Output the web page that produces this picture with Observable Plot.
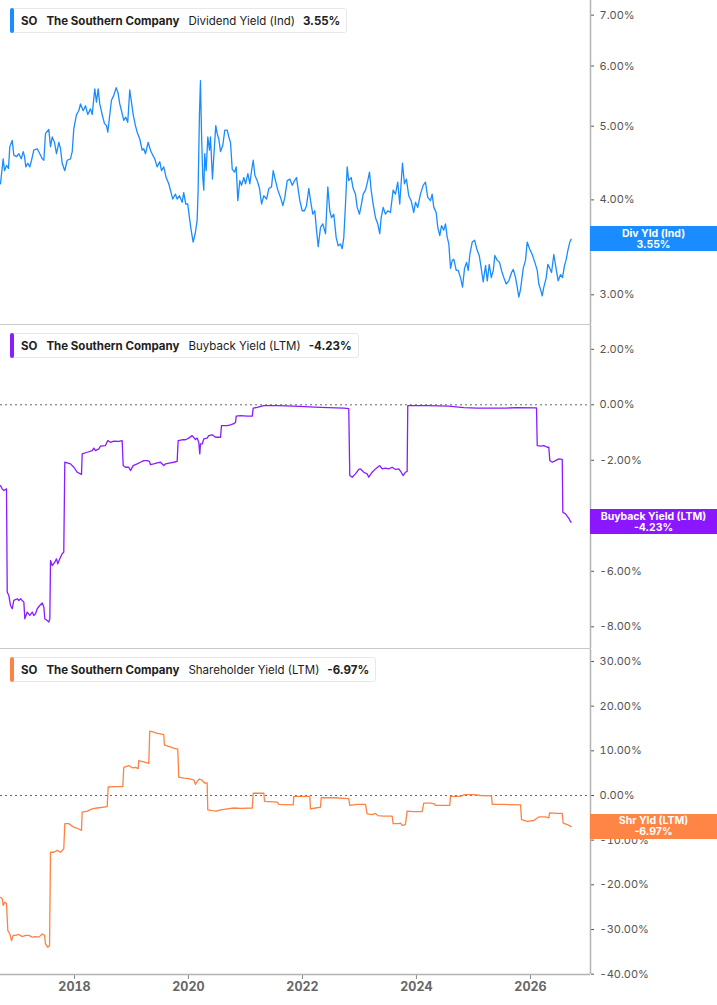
<!DOCTYPE html>
<html>
<head>
<meta charset="utf-8">
<script src="https://cdn.jsdelivr.net/npm/d3@7"></script>
<script src="https://cdn.jsdelivr.net/npm/@observablehq/plot@0.6"></script>
<style>
  body { margin: 0; background: #fff; font-family: Inter, "Noto Sans", sans-serif; }
  #chart { position: relative; width: 717px; height: 1005px; overflow: hidden; background: #fff; }
  #chart svg { display: block; }
  .divider { width: 591px; height: 1px; background: #c8c8c8; }
  .legend { position: absolute; left: 10px; height: 25px; display: flex; align-items: center;
    background: #fff; border: 1px solid #e8e8e8; border-radius: 3px; font-size: 11.5px; color: #222;
    padding: 0 6px 0 10px; box-sizing: border-box; white-space: nowrap; }
  .legend .bar { position: absolute; left: -1px; top: -1px; bottom: -1px; width: 4px; border-radius: 2px; }
  .legend .tk { font-weight: 700; margin-right: 9px; }
  .legend .co { font-weight: 700; margin-right: 9px; }
  .legend .me { font-weight: 400; margin-right: 8px; }
  .legend .va { font-weight: 700; }
  .badge { position: absolute; left: 590px; width: 127px; height: 25px; color: #fff; font-weight: 700;
    font-size: 10.5px; line-height: 11px; text-align: center; display: flex; flex-direction: column;
    justify-content: center; }
</style>
</head>
<body>
<div id="chart"></div>
<script>
// ---- data (decimal year, value in %) ----
const dividendYield = [[2016.702,4.20],[2016.749,4.53],[2016.772,4.37],[2016.807,4.44],[2016.842,4.40],[2016.865,4.70],[2016.907,4.79],[2016.935,4.58],[2016.983,4.56],[2017.023,4.60],[2017.065,4.53],[2017.100,4.63],[2017.123,4.56],[2017.146,4.42],[2017.181,4.47],[2017.216,4.42],[2017.246,4.51],[2017.286,4.65],[2017.346,4.67],[2017.391,4.60],[2017.434,4.53],[2017.462,4.51],[2017.491,4.89],[2017.549,4.95],[2017.579,4.70],[2017.609,4.84],[2017.649,4.76],[2017.684,4.60],[2017.725,4.76],[2017.755,4.67],[2017.784,4.47],[2017.830,4.37],[2017.872,4.51],[2017.930,4.53],[2017.960,4.63],[2017.988,4.96],[2018.035,5.18],[2018.076,5.24],[2018.105,5.35],[2018.153,5.24],[2018.193,5.32],[2018.234,5.18],[2018.281,5.27],[2018.311,5.18],[2018.356,5.60],[2018.386,5.38],[2018.416,5.60],[2018.444,5.35],[2018.486,5.18],[2018.527,5.04],[2018.562,5.01],[2018.585,4.91],[2018.620,5.18],[2018.649,5.41],[2018.690,5.49],[2018.732,5.62],[2018.767,5.52],[2018.795,5.35],[2018.825,5.24],[2018.865,5.09],[2018.900,5.14],[2018.935,5.06],[2018.970,5.58],[2019.000,5.38],[2019.030,5.18],[2019.070,5.01],[2019.100,4.91],[2019.146,4.81],[2019.188,4.65],[2019.216,4.67],[2019.246,4.60],[2019.293,4.76],[2019.334,4.65],[2019.374,4.58],[2019.409,4.53],[2019.451,4.42],[2019.497,4.49],[2019.527,4.37],[2019.567,4.42],[2019.609,4.28],[2019.655,4.20],[2019.684,4.12],[2019.725,4.01],[2019.772,4.07],[2019.802,4.01],[2019.842,4.05],[2019.890,3.97],[2019.918,4.09],[2019.953,3.95],[2019.988,3.95],[2020.018,3.79],[2020.048,3.65],[2020.083,3.52],[2020.118,3.61],[2020.153,3.76],[2020.170,4.12],[2020.193,5.18],[2020.211,5.74],[2020.228,4.94],[2020.251,4.28],[2020.269,4.12],[2020.286,4.60],[2020.311,4.37],[2020.339,4.84],[2020.369,4.65],[2020.386,4.84],[2020.421,4.26],[2020.444,4.56],[2020.479,5.01],[2020.504,4.89],[2020.532,4.81],[2020.562,4.63],[2020.602,4.72],[2020.637,4.94],[2020.679,4.94],[2020.707,4.84],[2020.737,4.76],[2020.767,4.39],[2020.807,4.35],[2020.837,4.42],[2020.865,3.99],[2020.900,4.24],[2020.930,4.18],[2020.970,4.28],[2021.000,4.20],[2021.041,4.33],[2021.076,4.20],[2021.106,4.37],[2021.135,4.51],[2021.164,4.31],[2021.205,4.24],[2021.246,4.14],[2021.281,3.95],[2021.321,4.05],[2021.369,4.01],[2021.409,4.14],[2021.456,4.16],[2021.486,4.37],[2021.526,4.24],[2021.567,4.12],[2021.614,4.03],[2021.655,3.93],[2021.690,4.03],[2021.732,4.24],[2021.778,4.26],[2021.820,4.18],[2021.860,4.24],[2021.895,4.28],[2021.918,4.16],[2021.953,3.99],[2021.995,3.87],[2022.035,3.87],[2022.070,3.93],[2022.111,4.14],[2022.141,3.99],[2022.181,3.83],[2022.216,3.87],[2022.246,3.65],[2022.276,3.47],[2022.316,3.68],[2022.356,3.72],[2022.404,3.61],[2022.444,4.16],[2022.479,3.87],[2022.509,3.79],[2022.549,3.83],[2022.591,3.57],[2022.627,3.48],[2022.667,3.50],[2022.697,3.45],[2022.725,3.57],[2022.755,3.95],[2022.784,4.42],[2022.812,4.24],[2022.855,4.28],[2022.890,4.14],[2022.930,4.07],[2022.960,3.91],[2023.000,3.83],[2023.035,3.95],[2023.065,4.07],[2023.106,4.12],[2023.146,4.24],[2023.176,4.35],[2023.205,4.12],[2023.240,3.95],[2023.281,3.79],[2023.321,3.72],[2023.356,3.61],[2023.381,3.79],[2023.416,3.91],[2023.456,3.83],[2023.497,3.87],[2023.544,3.85],[2023.591,4.12],[2023.632,4.07],[2023.672,4.22],[2023.707,3.95],[2023.755,4.47],[2023.790,4.20],[2023.825,4.26],[2023.865,4.05],[2023.907,3.99],[2023.953,3.85],[2023.983,3.97],[2024.023,3.91],[2024.070,4.07],[2024.118,4.18],[2024.158,4.22],[2024.198,4.03],[2024.246,3.99],[2024.275,4.07],[2024.304,3.91],[2024.346,3.85],[2024.374,3.68],[2024.409,3.59],[2024.439,3.70],[2024.479,3.65],[2024.509,3.72],[2024.539,3.57],[2024.567,3.50],[2024.597,3.25],[2024.627,3.33],[2024.655,3.34],[2024.697,3.23],[2024.732,3.23],[2024.772,3.16],[2024.807,3.07],[2024.842,3.25],[2024.877,3.31],[2024.907,3.23],[2024.935,3.39],[2024.977,3.52],[2025.018,3.54],[2025.065,3.43],[2025.100,3.38],[2025.135,3.25],[2025.170,3.12],[2025.211,3.28],[2025.241,3.13],[2025.276,3.29],[2025.311,3.16],[2025.346,3.23],[2025.374,3.38],[2025.416,3.33],[2025.456,3.31],[2025.491,3.23],[2025.532,3.16],[2025.574,3.10],[2025.620,3.13],[2025.667,3.21],[2025.697,3.24],[2025.737,3.16],[2025.767,3.07],[2025.795,2.98],[2025.825,3.05],[2025.872,3.25],[2025.912,3.33],[2025.942,3.52],[2025.983,3.45],[2026.030,3.39],[2026.076,3.31],[2026.118,3.23],[2026.146,3.10],[2026.176,3.05],[2026.205,2.99],[2026.234,3.07],[2026.276,3.16],[2026.304,3.29],[2026.339,3.25],[2026.369,3.21],[2026.409,3.39],[2026.451,3.24],[2026.486,3.13],[2026.527,3.19],[2026.562,3.16],[2026.597,3.28],[2026.627,3.34],[2026.655,3.43],[2026.690,3.52],[2026.714,3.55]];

const buybackYield = [[2016.702,-2.91],[2016.732,-3.03],[2016.760,-3.09],[2016.807,-3.03],[2016.820,-6.75],[2016.848,-6.87],[2016.877,-7.23],[2016.907,-7.35],[2016.935,-7.05],[2016.995,-6.99],[2017.023,-7.05],[2017.053,-6.99],[2017.111,-7.11],[2017.128,-7.71],[2017.170,-7.47],[2017.216,-7.59],[2017.258,-7.47],[2017.286,-7.59],[2017.316,-7.53],[2017.346,-7.35],[2017.391,-7.23],[2017.434,-7.14],[2017.462,-7.29],[2017.479,-7.71],[2017.521,-7.77],[2017.549,-7.83],[2017.567,-7.71],[2017.579,-5.61],[2017.609,-5.79],[2017.655,-5.67],[2017.684,-5.55],[2017.707,-5.73],[2017.742,-5.55],[2017.784,-5.37],[2017.812,-5.31],[2017.830,-2.07],[2017.872,-2.09],[2017.930,-2.13],[2017.988,-2.25],[2018.047,-2.43],[2018.105,-2.49],[2018.123,-2.51],[2018.135,-1.77],[2018.223,-1.71],[2018.311,-1.65],[2018.339,-1.56],[2018.369,-1.65],[2018.427,-1.59],[2018.456,-1.49],[2018.544,-1.47],[2018.584,-1.29],[2018.632,-1.35],[2018.690,-1.31],[2018.777,-1.32],[2018.837,-1.29],[2018.855,-2.19],[2018.895,-2.25],[2018.953,-2.25],[2018.983,-2.37],[2019.030,-2.19],[2019.100,-2.13],[2019.158,-2.07],[2019.216,-2.01],[2019.276,-2.01],[2019.316,-2.04],[2019.334,-2.16],[2019.391,-2.13],[2019.451,-2.09],[2019.509,-2.07],[2019.567,-2.19],[2019.597,-2.13],[2019.684,-2.09],[2019.742,-2.07],[2019.802,-2.04],[2019.820,-1.29],[2019.890,-1.26],[2019.948,-1.26],[2020.005,-1.20],[2020.065,-1.11],[2020.123,-1.25],[2020.153,-1.20],[2020.181,-1.35],[2020.199,-1.77],[2020.211,-1.41],[2020.241,-1.41],[2020.269,-1.23],[2020.328,-1.20],[2020.356,-1.11],[2020.416,-1.08],[2020.474,-1.17],[2020.532,-1.17],[2020.562,-1.17],[2020.579,-0.75],[2020.620,-0.75],[2020.679,-0.75],[2020.737,-0.72],[2020.795,-0.68],[2020.825,-0.63],[2020.837,-0.41],[2020.913,-0.39],[2021.030,-0.41],[2021.118,-0.41],[2021.135,-0.12],[2021.205,-0.09],[2021.321,-0.03],[2021.556,-0.03],[2021.848,-0.05],[2022.316,-0.09],[2022.725,-0.12],[2022.812,-0.14],[2022.830,-2.55],[2022.872,-2.61],[2022.930,-2.49],[2022.988,-2.33],[2023.018,-2.31],[2023.076,-2.43],[2023.135,-2.49],[2023.163,-2.61],[2023.223,-2.43],[2023.281,-2.31],[2023.356,-2.19],[2023.398,-2.31],[2023.456,-2.28],[2023.514,-2.31],[2023.574,-2.25],[2023.632,-2.33],[2023.690,-2.31],[2023.732,-2.43],[2023.767,-2.55],[2023.807,-2.43],[2023.837,-2.40],[2023.848,-0.03],[2023.953,-0.03],[2024.188,-0.03],[2024.567,-0.05],[2024.830,-0.10],[2025.065,-0.12],[2025.562,-0.12],[2025.767,-0.10],[2026.105,-0.11],[2026.118,-1.47],[2026.176,-1.49],[2026.234,-1.47],[2026.293,-1.53],[2026.321,-1.53],[2026.339,-2.01],[2026.381,-2.07],[2026.439,-2.01],[2026.497,-1.95],[2026.557,-1.97],[2026.567,-3.87],[2026.614,-3.93],[2026.644,-4.01],[2026.672,-4.09],[2026.702,-4.21],[2026.714,-4.23]];

const shareholderYield = [[2016.702,-22.8],[2016.732,-23.1],[2016.749,-24.6],[2016.777,-23.9],[2016.807,-24.2],[2016.830,-30.2],[2016.865,-31.0],[2016.895,-32.5],[2016.925,-31.3],[2016.965,-31.3],[2017.023,-31.1],[2017.083,-31.6],[2017.141,-31.3],[2017.198,-31.3],[2017.258,-31.7],[2017.316,-31.6],[2017.374,-31.7],[2017.434,-31.0],[2017.474,-31.3],[2017.491,-33.2],[2017.532,-34.0],[2017.562,-33.6],[2017.579,-12.7],[2017.637,-12.7],[2017.697,-12.3],[2017.755,-12.7],[2017.784,-12.3],[2017.812,-11.9],[2017.830,-6.3],[2017.900,-6.3],[2017.988,-7.1],[2018.076,-7.5],[2018.123,-7.8],[2018.135,-3.7],[2018.223,-3.5],[2018.311,-3.0],[2018.398,-2.8],[2018.514,-2.6],[2018.574,-2.5],[2018.591,1.9],[2018.690,2.0],[2018.848,2.0],[2018.865,6.3],[2018.953,6.7],[2019.012,6.2],[2019.070,6.3],[2019.118,6.0],[2019.128,7.8],[2019.216,7.5],[2019.304,7.2],[2019.321,14.4],[2019.391,14.2],[2019.451,13.9],[2019.509,13.8],[2019.567,13.6],[2019.579,11.3],[2019.655,11.0],[2019.742,10.6],[2019.813,10.4],[2019.830,4.1],[2019.918,3.9],[2020.005,3.8],[2020.093,3.5],[2020.123,2.5],[2020.153,3.2],[2020.193,3.7],[2020.241,3.4],[2020.281,2.8],[2020.328,2.8],[2020.339,-3.2],[2020.416,-3.4],[2020.491,-3.5],[2020.562,-3.2],[2020.679,-3.0],[2020.795,-2.8],[2020.913,-2.9],[2021.118,-2.8],[2021.135,0.5],[2021.321,0.5],[2021.334,-1.3],[2021.556,-1.5],[2021.584,-2.0],[2021.837,-2.1],[2021.848,-0.2],[2022.128,-0.2],[2022.140,-3.0],[2022.228,-2.8],[2022.316,-2.6],[2022.328,-0.5],[2022.549,-0.5],[2022.812,-0.7],[2022.830,-2.2],[2022.960,-2.0],[2023.018,-2.0],[2023.106,-2.0],[2023.135,-4.1],[2023.223,-4.3],[2023.281,-4.0],[2023.321,-4.5],[2023.426,-4.6],[2023.574,-4.6],[2023.591,-6.3],[2023.690,-6.3],[2023.720,-6.2],[2023.749,-6.7],[2023.807,-6.5],[2023.837,-3.5],[2023.953,-3.6],[2024.100,-3.6],[2024.128,-1.7],[2024.246,-1.7],[2024.316,-1.9],[2024.334,-2.2],[2024.479,-2.2],[2024.584,-2.2],[2024.597,-0.2],[2024.772,-0.2],[2024.842,0.2],[2025.006,0.2],[2025.123,0.0],[2025.316,-0.1],[2025.328,-2.0],[2025.532,-2.0],[2025.825,-2.1],[2025.842,-5.4],[2025.942,-5.8],[2026.058,-5.6],[2026.146,-4.8],[2026.263,-4.8],[2026.321,-5.0],[2026.334,-3.9],[2026.469,-4.0],[2026.557,-4.0],[2026.574,-6.2],[2026.644,-6.5],[2026.714,-6.97]];

const divTicks = [3, 4, 5, 6, 7];
const buybackTicks = [2, 0, -2, -6, -8];          // the -4.00% label sits under the value badge
const shareholderTicks = [30, 20, 10, 0, -10, -20, -30, -40];
const yearTicks = [2018, 2020, 2022, 2024, 2026];
const xRange = [2016.702, 2027.053];

const panels = [
  {ticker: "SO", company: "The Southern Company", metric: "Dividend Yield (Ind)", last: "3.55%", lastValue: 3.55,
   badge: ["Div Yld (Ind)", "3.55%"], color: "#1a8cff", badgeColor: "#1a8cff", data: dividendYield},
  {ticker: "SO", company: "The Southern Company", metric: "Buyback Yield (LTM)", last: "-4.23%", lastValue: -4.23,
   badge: ["Buyback Yield (LTM)", "-4.23%"], color: "#8a1cff", badgeColor: "#8a17ff", data: buybackYield},
  {ticker: "SO", company: "The Southern Company", metric: "Shareholder Yield (LTM)", last: "-6.97%", lastValue: -6.97,
   badge: ["Shr Yld (LTM)", "-6.97%"], color: "#ff8243", badgeColor: "#ff8547", data: shareholderYield}
];

// ---- helpers ----
const toDate = t => {
  const yr = Math.floor(t);
  const s = Date.UTC(yr, 0, 1), e = Date.UTC(yr + 1, 0, 1);
  return new Date(s + (t - yr) * (e - s));
};
const rows = pairs => pairs.map(([t, v]) => ({date: toDate(t), value: v}));
const xDomain = xRange.map(toDate);
const pct = d => d.toFixed(2) + "%";

const common = {
  width: 717, marginLeft: 0, marginRight: 127, marginTop: 0,
  style: {fontFamily: "Inter, 'Noto Sans', sans-serif", fontSize: "11px", color: "#555", background: "transparent", overflow: "visible"}
};
const axisRight = ticks => Plot.axisY(ticks, {anchor: "right", tickSize: 3, tickPadding: 6, tickFormat: pct, label: null});
const edge = () => Plot.ruleX([xDomain[1]], {stroke: "#b3b3b3", strokeWidth: 1.5});

const p1 = Plot.plot({
  ...common, height: 324, marginBottom: 0,
  x: {type: "utc", domain: xDomain, axis: null},
  y: {type: "log", domain: [2.742, 7.318]},
  marks: [
    axisRight(divTicks),
    edge(),
    Plot.lineY(rows(dividendYield), {x: "date", y: "value", stroke: panels[0].color, strokeWidth: 1.3})
  ]
});

const p2 = Plot.plot({
  ...common, height: 323, marginBottom: 0,
  x: {type: "utc", domain: xDomain, axis: null},
  y: {domain: [-8.782, 2.858]},
  marks: [
    axisRight(buybackTicks),
    Plot.ruleY([0], {stroke: "#666", strokeDasharray: "2,3"}),
    edge(),
    Plot.lineY(rows(buybackYield), {x: "date", y: "value", stroke: panels[1].color, strokeWidth: 1.3})
  ]
});

const p3 = Plot.plot({
  ...common, height: 356, marginBottom: 31,
  x: {type: "utc", domain: xDomain},
  y: {domain: [-40.07, 32.68]},
  marks: [
    axisRight(shareholderTicks),
    Plot.axisX(yearTicks.map(y => toDate(y)), {anchor: "bottom", tickSize: 5, tickPadding: 3,
      tickFormat: d3.utcFormat("%Y"), fontWeight: "bold", fontSize: 12.5, fill: "#666", stroke: "#888", label: null}),
    Plot.ruleY([0], {stroke: "#666", strokeDasharray: "2,3"}),
    Plot.ruleY([-40.07], {stroke: "#b3b3b3", strokeWidth: 1.5}),
    edge(),
    Plot.lineY(rows(shareholderYield), {x: "date", y: "value", stroke: panels[2].color, strokeWidth: 1.3})
  ]
});

// ---- assemble ----
const chart = document.getElementById("chart");
const plots = [p1, p2, p3];
const tops = [0, 325, 649];
plots.forEach((p, i) => {
  chart.appendChild(p);
  if (i < 2) { const d = document.createElement("div"); d.className = "divider"; chart.appendChild(d); }
});

panels.forEach((pn, i) => {
  const lg = document.createElement("div");
  lg.className = "legend";
  lg.style.top = (tops[i] + 8) + "px";
  lg.innerHTML = `<span class="bar" style="background:${pn.color}"></span><span class="tk">${pn.ticker}</span><span class="co">${pn.company}</span><span class="me">${pn.metric}</span><span class="va">${pn.last}</span>`;
  chart.appendChild(lg);

  const yc = plots[i].scale("y").apply(pn.lastValue);
  const b = document.createElement("div");
  b.className = "badge";
  b.style.background = pn.badgeColor;
  b.style.top = (tops[i] + yc - 12.5) + "px";
  b.innerHTML = `<div>${pn.badge[0]}</div><div>${pn.badge[1]}</div>`;
  chart.appendChild(b);
});
</script>
</body>
</html>
